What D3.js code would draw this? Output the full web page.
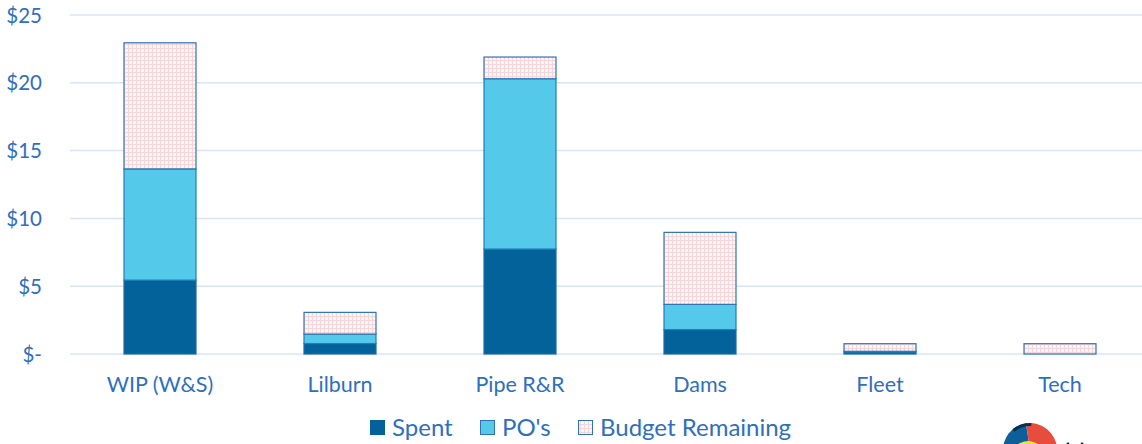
<!DOCTYPE html>
<html><head><meta charset="utf-8">
<script src="https://cdn.jsdelivr.net/npm/d3@7"></script>
<style>
html,body{margin:0;padding:0;background:#fff;overflow:hidden}
text{font-family:Lato,"Open Sans",sans-serif}
</style></head>
<body><svg id="c" width="1142" height="444"></svg>
<script>
const categories = ["WIP (W&S)", "Lilburn", "Pipe R&R", "Dams", "Fleet", "Tech"];
const spent = [5.45, 0.77, 7.74, 1.8, 0.15, 0];
const pos = [8.2, 0.7, 12.56, 1.86, 0.05, 0];
const remaining = [9.3, 1.6, 1.6, 5.31, 0.56, 0.76];
const seriesNames = ["Spent", "PO's", "Budget Remaining"];
const yTicks = [0, 5, 10, 15, 20, 25];

const svg = d3.select("#c");
const blue = "#2E6FC0";
const defs = svg.append("defs");
const pat = defs.append("pattern").attr("id","pk").attr("patternUnits","userSpaceOnUse").attr("width",4).attr("height",4);
pat.append("rect").attr("width",4).attr("height",4).attr("fill","#fcf1f3");
pat.append("rect").attr("x",0).attr("y",0).attr("width",4).attr("height",1).attr("fill","#f4d6db");
pat.append("rect").attr("x",0).attr("y",0).attr("width",1).attr("height",4).attr("fill","#f4d6db");
pat.append("rect").attr("x",2).attr("y",2).attr("width",1).attr("height",1).attr("fill","#ffffff");

const x = d3.scaleBand().domain(categories).range([70, 1150]).paddingInner(0.6).paddingOuter(0.3);
const y = d3.scaleLinear().domain([0, 25]).range([354, 15]);

// gridlines
svg.append("g").selectAll("line").data(yTicks).join("line")
  .attr("x1",70).attr("x2",1142).attr("y1",d=>y(d)).attr("y2",d=>y(d))
  .attr("stroke","#d9e4f4").attr("stroke-width",1.5);

// y axis
const yAxis = d3.axisLeft(y).tickValues(yTicks).tickSize(0).tickPadding(0)
  .tickFormat(d => d === 0 ? "$-" : "$" + d);
const ga = svg.append("g").attr("transform","translate(42,0)").call(yAxis);
ga.select(".domain").remove();
ga.selectAll("text").attr("fill",blue).style("font-size","20.5px").style("font-family","Lato,sans-serif").attr("dy","0.35em");

// x axis
const xAxis = d3.axisBottom(x).tickSize(0).tickPadding(0);
const gx = svg.append("g").attr("transform","translate(0,377)").call(xAxis);
gx.select(".domain").remove();
gx.selectAll("text").attr("fill",blue).style("font-size","21.5px").style("font-family","Lato,sans-serif").attr("dy","0.7em");

// stacks
const rows = categories.map((c,i)=>({cat:c, s0:spent[i], s1:pos[i], s2:remaining[i]}));
const stack = d3.stack().keys(["s0","s1","s2"])(rows);
const fills = ["#03629A", "#54C9EA", "url(#pk)"];
const strokes = ["#1E6AA8", "#1E7FB8", "#2E74B5"];
stack.forEach((layer, li) => {
  svg.append("g").selectAll("rect").data(layer.filter(d => d[1]-d[0] > 0)).join("rect")
    .attr("x", d => x(d.data.cat)).attr("width", x.bandwidth())
    .attr("y", d => y(d[1])).attr("height", d => y(d[0]) - y(d[1]))
    .attr("fill", fills[li]).attr("stroke", strokes[li]).attr("stroke-width", 1.2);
});

// legend
const legX = [370, 480, 578];
const lg = svg.append("g");
seriesNames.forEach((n,i) => {
  lg.append("rect").attr("x",legX[i]+0.5).attr("y",420.5).attr("width",14).attr("height",14)
    .attr("fill",fills[i]).attr("stroke", i===0 ? "#03629A" : "#2E74B5").attr("stroke-width",1);
  lg.append("text").attr("x",legX[i]+22).attr("y",436).attr("fill",blue)
    .style("font-size","24px").text(n);
});

// logo (partially visible)
const logo = svg.append("g").attr("transform","translate(1030,450)");
const arc = d3.arc().innerRadius(0).outerRadius(27);
logo.append("path").attr("d", arc({startAngle:-Math.PI, endAngle:-0.15})).attr("fill","#0E5E9A");
logo.append("path").attr("d", arc({startAngle:-0.15, endAngle:Math.PI})).attr("fill","#E84C3D");
logo.append("path").attr("d", d3.arc().innerRadius(0).outerRadius(17)({startAngle:-0.9, endAngle:0.9})).attr("transform","translate(-2,8)").attr("fill","#E6E43A");
logo.append("path").attr("d", d3.arc().innerRadius(24).outerRadius(27)({startAngle:-0.7, endAngle:0.05})).attr("fill","#0B2E52");
// partial letter of the logo word, drawn as a shape
svg.append("path").attr("d", d3.arc().innerRadius(7).outerRadius(12)({startAngle:0.6, endAngle:2*Math.PI-0.6}))
  .attr("transform","translate(1075,452)").attr("fill","#0B2E52");
</script></body></html>
